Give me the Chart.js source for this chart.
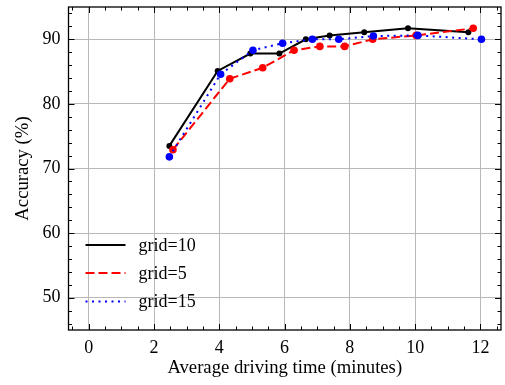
<!DOCTYPE html>
<html>
<head>
<meta charset="utf-8">
<script src="https://cdn.jsdelivr.net/npm/chart.js@4/dist/chart.umd.min.js"></script>
<style>
  html, body { margin: 0; padding: 0; background: #fff; }
  #wrap { width: 505px; height: 385px; }
</style>
</head>
<body>
<div id="wrap"><canvas id="accChart"></canvas></div>
<script>
// data
const grid10X = [2.47, 3.95, 4.95, 5.84, 6.65, 7.38, 8.44, 9.78, 11.63];
const grid10Y = [73.5, 85.1, 87.8, 87.8, 90.0, 90.6, 91.1, 91.7, 91.1];
const grid5X = [2.58, 4.32, 5.33, 6.29, 7.08, 7.84, 8.70, 10.03, 11.78];
const grid5Y = [72.9, 83.9, 85.6, 88.3, 88.9, 88.9, 90.0, 90.6, 91.7];
const grid15X = [2.47, 4.04, 5.03, 5.94, 6.85, 7.66, 8.72, 10.08, 12.03];
const grid15Y = [71.8, 84.6, 88.3, 89.4, 90.0, 90.0, 90.5, 90.6, 90.0];
const seriesLabels = ['grid=10', 'grid=5', 'grid=15'];

const xTicks = [0, 2, 4, 6, 8, 10, 12];
const yTicks = [50, 60, 70, 80, 90];

const FONT = '"Liberation Serif", "DejaVu Serif", serif';

function pts(xs, ys) {
    return xs.map((x, i) => ({ x: x, y: ys[i] }));
}

// frame + inward ticks on all sides (matplotlib science style)
const frameTicks = {
    id: 'frameTicks',
    afterDraw(chart) {
        const { ctx, chartArea: a, scales } = chart;
        const x = scales.x, y = scales.y;
        ctx.save();
        ctx.strokeStyle = '#000';
        ctx.lineWidth = 1;
        ctx.beginPath();
        for (let v = -0.5; v <= 12.5; v += 0.5) {
            const px = Math.round(x.getPixelForValue(v)) + 0.5;
            const len = xTicks.includes(v) ? 6 : 3.5;
            ctx.moveTo(px, a.bottom); ctx.lineTo(px, a.bottom - len);
            ctx.moveTo(px, a.top); ctx.lineTo(px, a.top + len);
        }
        for (let v = 46; v <= 94; v += 2) {
            const py = Math.round(y.getPixelForValue(v)) + 0.5;
            const len = yTicks.includes(v) ? 6 : 3.5;
            ctx.moveTo(a.left, py); ctx.lineTo(a.left + len, py);
            ctx.moveTo(a.right, py); ctx.lineTo(a.right - len, py);
        }
        ctx.stroke();
        ctx.lineWidth = 1.3;
        ctx.strokeRect(a.left, a.top, a.right - a.left, a.bottom - a.top);

        // legend, lower left inside the axes
        const styles = [
            { color: '#000000', dash: [] },
            { color: '#ff0000', dash: [9, 4] },
            { color: '#0000ff', dash: [2, 4.5] }
        ];
        ctx.font = '18px ' + FONT;
        ctx.textBaseline = 'middle';
        ctx.fillStyle = '#000';
        const rowY = [a.top + 238, a.top + 266, a.top + 294.5];
        seriesLabels.forEach((lab, i) => {
            ctx.beginPath();
            ctx.strokeStyle = styles[i].color;
            ctx.lineWidth = 2;
            ctx.setLineDash(styles[i].dash);
            ctx.moveTo(a.left + 17, rowY[i]);
            ctx.lineTo(a.left + 57, rowY[i]);
            ctx.stroke();
            ctx.setLineDash([]);
            ctx.fillText(lab, a.left + 70, rowY[i] + 1);
        });
        ctx.restore();
    }
};

new Chart(document.getElementById('accChart'), {
    type: 'scatter',
    data: {
        datasets: [
            {
                label: seriesLabels[0],
                data: pts(grid10X, grid10Y),
                showLine: true,
                borderColor: '#000000',
                backgroundColor: '#000000',
                borderWidth: 2,
                pointRadius: 3,
                pointBorderWidth: 0,
                order: 2
            },
            {
                label: seriesLabels[1],
                data: pts(grid5X, grid5Y),
                showLine: true,
                borderColor: '#ff0000',
                backgroundColor: '#ff0000',
                borderWidth: 2,
                borderDash: [9, 4],
                pointRadius: 3.8,
                pointBorderWidth: 0,
                order: 1
            },
            {
                label: seriesLabels[2],
                data: pts(grid15X, grid15Y),
                showLine: true,
                borderColor: '#0000ff',
                backgroundColor: '#0000ff',
                borderWidth: 2,
                borderDash: [2, 4.5],
                pointRadius: 3.8,
                pointBorderWidth: 0,
                order: 0
            }
        ]
    },
    options: {
        responsive: true,
        maintainAspectRatio: false,
        animation: false,
        layout: { padding: { top: 7, right: 0, left: 0, bottom: 0 } },
        plugins: {
            legend: { display: false },
            tooltip: { enabled: false }
        },
        scales: {
            x: {
                type: 'linear',
                min: -0.62,
                max: 12.63,
                afterBuildTicks: s => { s.ticks = xTicks.map(v => ({ value: v })); },
                afterFit: s => { s.height = 55; s.paddingLeft = 0; s.paddingRight = 0; },
                grid: { color: '#b8b8b8', lineWidth: 1, drawTicks: false },
                border: { display: false },
                ticks: {
                    padding: 7,
                    color: '#000',
                    font: { family: FONT, size: 18 },
                    maxRotation: 0
                },
                title: {
                    display: true,
                    text: 'Average driving time (minutes)',
                    color: '#000',
                    font: { family: FONT, size: 18.7 },
                    padding: { top: 0, bottom: 6 }
                }
            },
            y: {
                type: 'linear',
                min: 45,
                max: 95,
                afterBuildTicks: s => { s.ticks = yTicks.map(v => ({ value: v })); },
                afterFit: s => { s.width = 68.5; s.paddingTop = 0; s.paddingBottom = 0; },
                grid: { color: '#b8b8b8', lineWidth: 1, drawTicks: false },
                border: { display: false },
                ticks: {
                    padding: 8,
                    color: '#000',
                    font: { family: FONT, size: 18 }
                },
                title: {
                    display: true,
                    text: 'Accuracy (%)',
                    color: '#000',
                    font: { family: FONT, size: 18.7 },
                    padding: { top: 12, bottom: 0 }
                }
            }
        }
    },
    plugins: [frameTicks]
});
</script>
</body>
</html>
